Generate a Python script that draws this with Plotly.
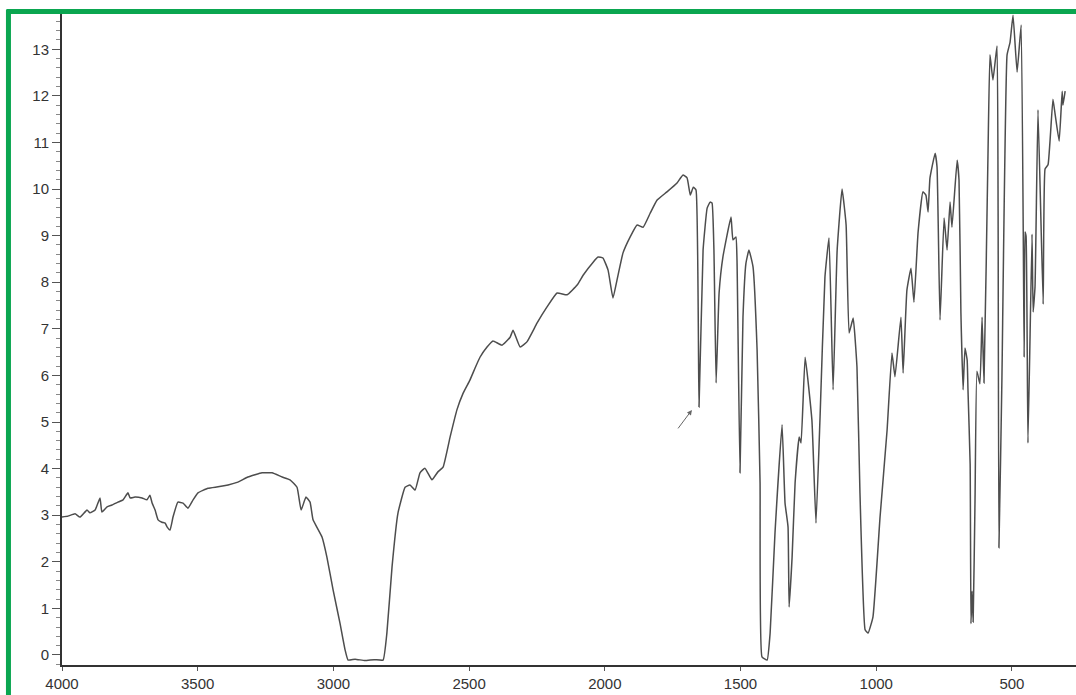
import plotly.graph_objects as go

# IR spectrum trace: wavenumber (cm-1) and signal value
wavenumber = [
    4000, 3978, 3952, 3934, 3908, 3897, 3878, 3860, 3853, 3834, 3816, 3794, 3775, 3757, 3749,
    3731, 3705, 3687, 3676, 3668, 3657, 3646, 3632, 3620, 3613, 3602, 3591, 3573, 3554, 3536,
    3517, 3499, 3462, 3425, 3388, 3352, 3315, 3263, 3226, 3189, 3160, 3134, 3119, 3101, 3086,
    3075, 3042, 3024, 3001, 2976, 2957, 2946, 2920, 2884, 2850, 2817, 2803, 2784, 2762, 2736,
    2718, 2699, 2681, 2663, 2637, 2615, 2596, 2570, 2545, 2522, 2497, 2478, 2460, 2434, 2412,
    2379, 2349, 2338, 2312, 2287, 2250, 2213, 2176, 2139, 2102, 2080, 2043, 2025, 2007, 1988,
    1970, 1955, 1933, 1907, 1881, 1859, 1833, 1808, 1771, 1734, 1712, 1697, 1685, 1674, 1664,
    1653, 1638, 1623, 1612, 1605, 1598, 1590, 1579, 1565, 1535, 1528, 1517, 1513, 1502, 1491,
    1480, 1469, 1454, 1439, 1428, 1421, 1402, 1391, 1373, 1347, 1336, 1325, 1321, 1310, 1299,
    1284, 1277, 1262, 1237, 1222, 1207, 1189, 1174, 1159, 1144, 1126, 1111, 1100, 1085, 1071,
    1060, 1041, 1030, 1012, 986, 960, 942, 931, 909, 901, 887, 872, 861, 846, 828,
    817, 809, 802, 783, 776, 765, 750, 739, 728, 721, 702, 695, 688, 680, 673,
    665, 662, 654, 651, 647, 643, 636, 629, 618, 610, 603, 588, 581, 570, 555,
    551, 548, 537, 518, 507, 496, 481, 466, 455, 452, 448, 441, 426, 422, 415,
    404, 385, 378, 367, 349, 341, 326, 315, 312, 304,
]
signal = [
    2.96, 2.98, 3.03, 2.96, 3.11, 3.05, 3.11, 3.37, 3.07, 3.18, 3.22, 3.28, 3.33, 3.48, 3.37,
    3.39, 3.37, 3.33, 3.43, 3.26, 3.11, 2.90, 2.85, 2.83, 2.75, 2.68, 2.96, 3.28, 3.26, 3.15,
    3.33, 3.48, 3.58, 3.61, 3.65, 3.71, 3.82, 3.91, 3.91, 3.82, 3.76, 3.60, 3.11, 3.39, 3.28,
    2.90, 2.53, 2.10, 1.39, 0.69, 0.11, -0.11, -0.09, -0.12, -0.10, -0.11, 0.47, 1.89, 3.05, 3.60,
    3.65, 3.54, 3.91, 4.01, 3.76, 3.93, 4.03, 4.68, 5.26, 5.62, 5.90, 6.16, 6.39, 6.61, 6.74,
    6.65, 6.82, 6.97, 6.61, 6.72, 7.12, 7.47, 7.77, 7.73, 7.94, 8.15, 8.43, 8.54, 8.52, 8.26,
    7.66, 8.05, 8.63, 8.97, 9.23, 9.18, 9.48, 9.76, 9.94, 10.13, 10.30, 10.24, 9.87, 10.04, 9.98,
    5.32, 8.69, 9.59, 9.72, 9.70, 8.69, 5.84, 7.77, 8.54, 9.40, 8.91, 8.97, 8.48, 3.91, 7.25,
    8.41, 8.69, 8.33, 6.55, 3.69, -0.04, -0.11, 0.47, 2.62, 4.94, 3.26, 2.75, 1.03, 2.10, 3.69,
    4.68, 4.55, 6.39, 5.04, 2.83, 5.11, 8.11, 8.95, 5.69, 8.69, 10.00, 9.23, 6.91, 7.23, 6.18,
    3.48, 0.54, 0.47, 0.82, 2.96, 4.83, 6.48, 5.97, 7.25, 6.05, 7.83, 8.30, 7.57, 9.06, 9.94,
    9.87, 9.51, 10.24, 10.77, 10.47, 7.19, 9.38, 8.69, 9.72, 9.18, 10.62, 10.19, 7.34, 5.69, 6.59,
    6.33, 5.69, 4.10, 0.67, 1.37, 0.71, 3.33, 6.09, 5.82, 7.25, 5.84, 10.84, 12.88, 12.34, 13.07,
    9.53, 2.30, 5.90, 12.88, 13.15, 13.73, 12.51, 13.52, 6.39, 9.08, 8.99, 4.55, 9.03, 7.36, 7.90,
    11.70, 7.53, 10.43, 10.52, 11.93, 11.61, 11.03, 12.10, 11.80, 12.10,
]

x_ticks = [4000, 3500, 3000, 2500, 2000, 1500, 1000, 500]
y_ticks = list(range(0, 14))

fig = go.Figure()
fig.add_trace(go.Scatter(
    x=wavenumber, y=signal, mode="lines",
    line=dict(color="#4d4d4d", width=1.5, shape="spline", smoothing=0.35),
    hoverinfo="skip", showlegend=False,
))

# small arrow pointing at the 1700 band
fig.add_annotation(
    x=1679, y=5.26, xref="x", yref="y", text="",
    showarrow=True, arrowhead=2, arrowsize=1, arrowwidth=1,
    arrowcolor="#666666", ax=-15, ay=20,
)

green = "#0aa650"
fig.add_shape(type="line", xref="paper", yref="paper",
              x0=-0.0545, x1=1.01, y0=1.0008, y1=1.0008,
              line=dict(color=green, width=5))
fig.add_shape(type="line", xref="paper", yref="paper",
              x0=-0.0528, x1=-0.0528, y0=1.004, y1=-0.05,
              line=dict(color=green, width=5))

fig.update_layout(
    width=1076, height=695,
    margin=dict(l=62, r=0, t=12, b=30),
    paper_bgcolor="white", plot_bgcolor="white",
    xaxis=dict(
        range=[4000, 264], tickvals=x_ticks, ticktext=[str(v) for v in x_ticks],
        showgrid=False, zeroline=False, showline=True, linecolor="#333333", linewidth=2,
        ticks="outside", ticklen=4, tickcolor="#555555",
        tickfont=dict(family="Liberation Sans Narrow, Arial Narrow, Liberation Sans, Arial",
                      size=15, color="#333333"),
    ),
    yaxis=dict(
        range=[-0.215, 13.8], tickvals=y_ticks,
        showgrid=False, zeroline=False, showline=True, linecolor="#333333", linewidth=2,
        ticks="outside", ticklen=8, tickcolor="#555555",
        minor=dict(dtick=0.2, ticks="outside", ticklen=4, tickcolor="#888888"),
        tickfont=dict(family="Liberation Sans, Arial", size=15, color="#333333"),
    ),
)

fig.write_html("out.html")
